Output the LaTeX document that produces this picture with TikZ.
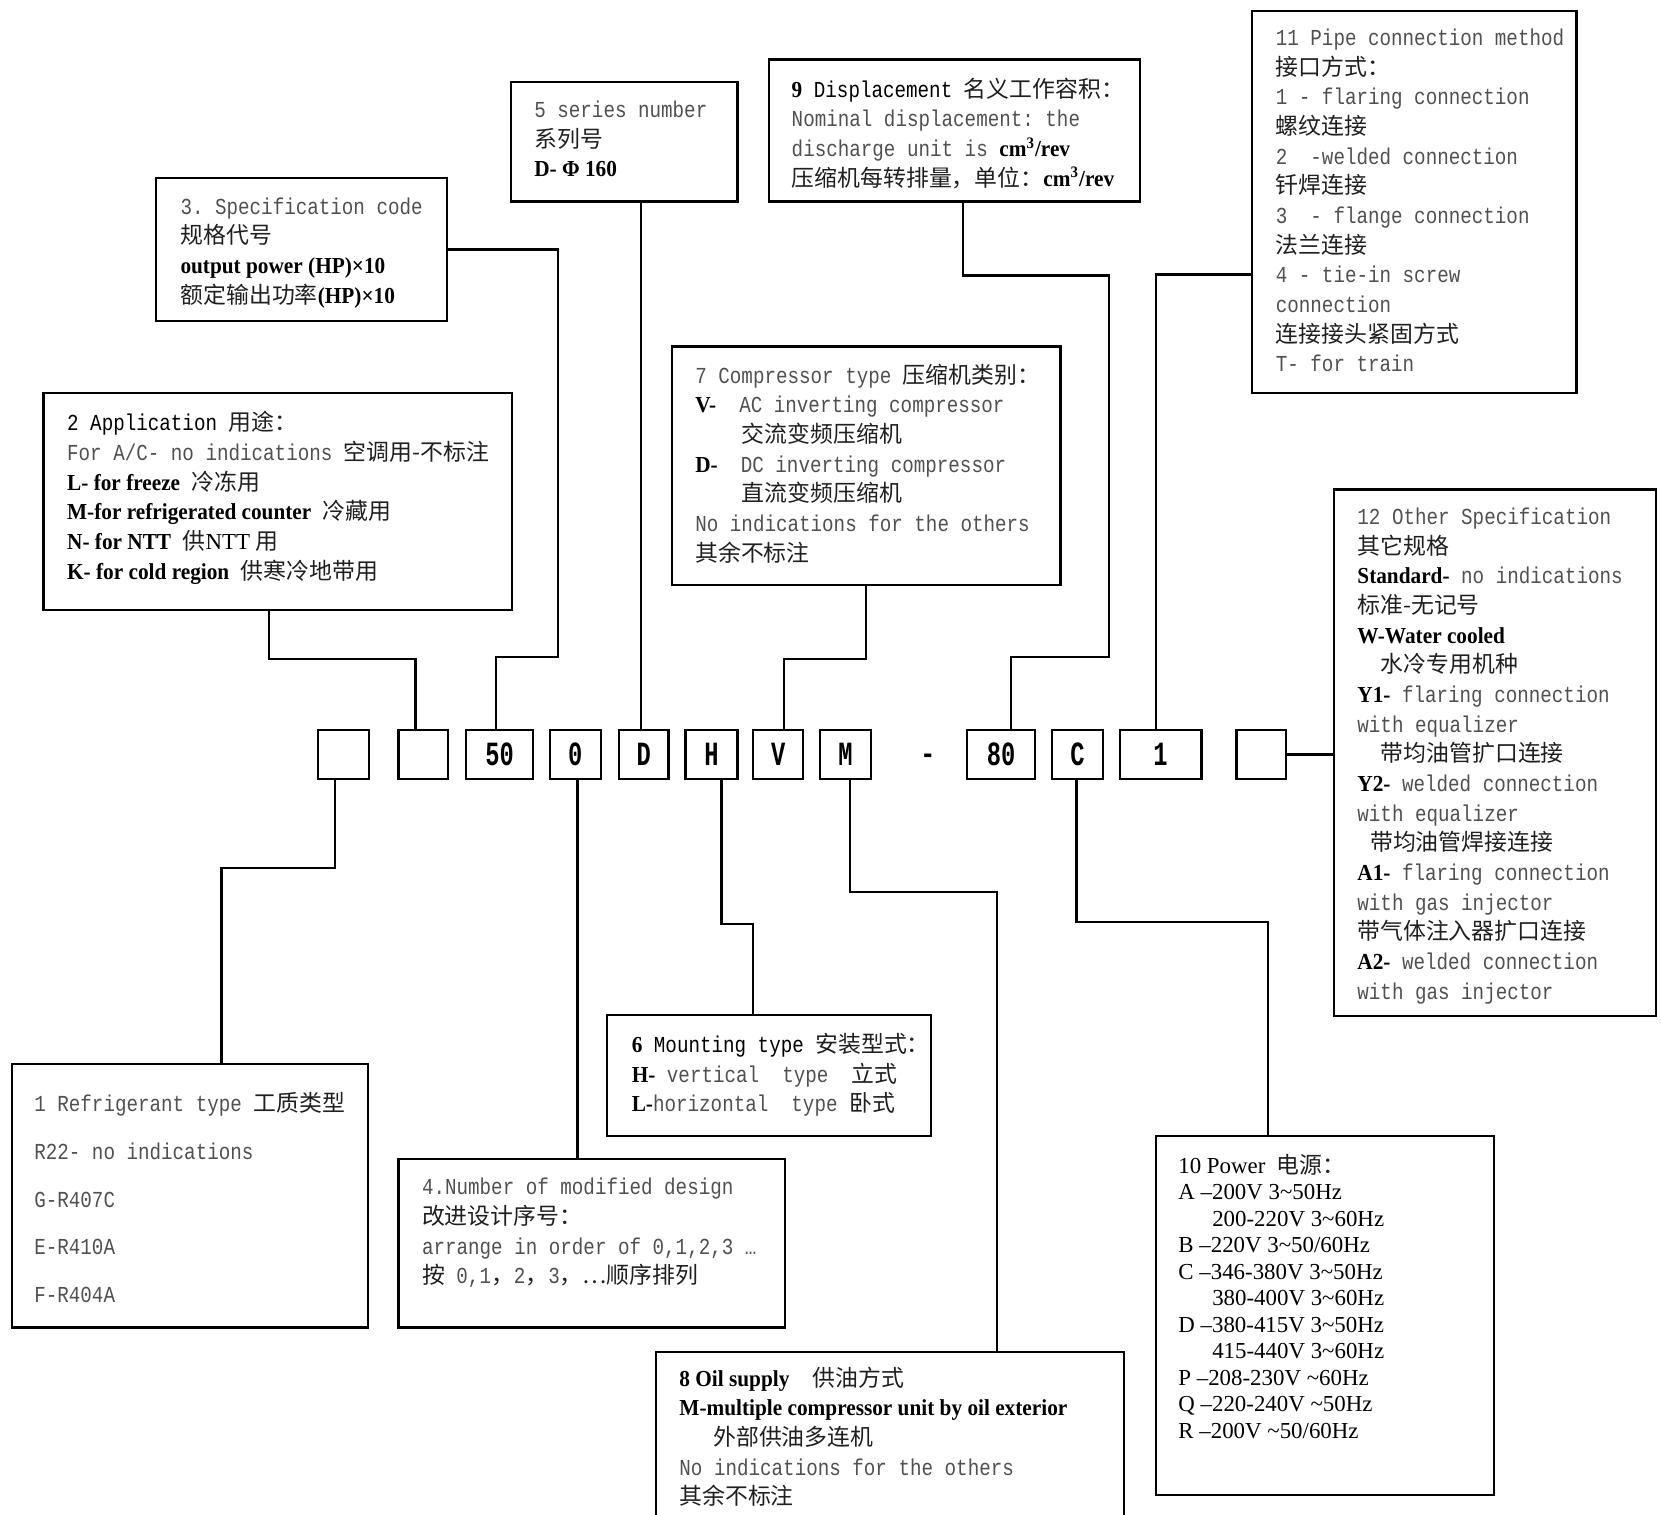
\documentclass[tikz,border=0pt]{standalone}
\usepackage{fontspec}
\setmainfont{Liberation Serif}
\setmonofont{Liberation Mono}[FakeStretch=0.84]
\newfontfamily\cjk{Noto Sans CJK SC}
\newfontfamily\codefont{Liberation Mono}[FakeStretch=0.7]
\newfontfamily\boldfont{Liberation Serif}[FakeStretch=0.93]
\usepackage{tikz}
\definecolor{CompGris}{HTML}{505050}
\colorlet{CompTinta}{black!88}
\newcommand\hz[1]{{\cjk\color{CompTinta}#1}}
\newcommand\tbf[1]{{\boldfont\bfseries\color{black}#1}}
\newcommand\tnr[1]{{\rmfamily\color{black}#1}}
\tikzset{
  spec/.style={draw,line width=1.1pt,anchor=north west,inner sep=0pt},
  spectxt/.style={anchor=north west,align=left,inner sep=0pt,text=CompGris,
    font=\ttfamily\fontsize{10.8}{14}\selectfont,
    execute at begin node=\rule{0pt}{11pt}},
  code/.style={draw,line width=1.1pt,anchor=north west,inner sep=0pt,minimum height=23pt,
    font=\codefont\bfseries\fontsize{16}{16}\selectfont},
  link/.style={line width=1.1pt}
}

\begin{document}
\begin{tikzpicture}[x=.5pt,y=-.5pt]
\path[use as bounding box,clip] (0,0) rectangle (1568,1430);
% code row
\node[code,minimum width=24pt]   (cR)  at (299,688) {};
\node[code,minimum width=23.5pt] (cA)  at (375,688) {};
\node[code,minimum width=31.5pt] (c50) at (439,688) {50};
\node[code,minimum width=24pt]   (c0)  at (518,688) {0};
\node[code,minimum width=23.5pt] (cD)  at (583,688) {D};
\node[code,minimum width=24.5pt] (cH)  at (646,688) {H};
\node[code,minimum width=23.5pt] (cV)  at (710,688) {V};
\node[code,minimum width=24pt]   (cM)  at (773,688) {M};
\node[font=\ttfamily\bfseries\fontsize{14}{14}\selectfont] (dash) at (876,716) {-};
\node[code,minimum width=32pt]   (c80) at (912,688) {80};
\node[code,minimum width=24pt]   (cC)  at (992,688) {C};
\node[code,minimum width=38.5pt] (c1)  at (1056,688) {1};
\node[code,minimum width=23.5pt] (cX)  at (1166,688) {};
% upper boxes
\node[spec,minimum width=137.5pt,minimum height=67.5pt] (spec3) at (146,167) {};
\node[spectxt] (spec3t) at (170,186) {3. Specification code\\
  \hz{规格代号}\\
  \tbf{output power (HP)×10}\\
  \hz{额定输出功率}\tbf{(HP)×10}};
\node[spec,minimum width=221pt,minimum height=102.5pt] (spec2) at (40,370) {};
\node[spectxt] (spec2t) at (63,388) {{\color{black}2 Application }\hz{用途：}\\
  For A/C- no indications \hz{空调用-不标注}\\
  \tbf{L- for freeze} \hz{冷冻用}\\
  \tbf{M-for refrigerated counter} \hz{冷藏用}\\
  \tbf{N- for NTT} \hz{供}\tnr{ NTT }\hz{用}\\
  \tbf{K- for cold region} \hz{供寒冷地带用}};
\node[spec,minimum width=107pt,minimum height=56.5pt] (spec5) at (481,76) {};
\node[spectxt] (spec5t) at (504,95) {5 series number\\
  \hz{系列号}\\
  \tbf{D- Φ 160}};
\node[spec,minimum width=175pt,minimum height=67pt] (spec9) at (725,55) {};
\node[spectxt] (spec9t) at (747,73) {\tbf{9} {\color{black}Displacement} \hz{名义工作容积：}\\
  Nominal displacement: the\\
  discharge unit is \tbf{cm\textsuperscript{3}/rev}\\
  \hz{压缩机每转排量，单位：}\tbf{cm\textsuperscript{3}/rev}};
\node[spec,minimum width=183.5pt,minimum height=112.5pt] (spec7) at (633,326) {};
\node[spectxt] (spec7t) at (656,343) {7 Compressor type \hz{压缩机类别：}\\
  \tbf{V-}\ \ AC inverting compressor\\
  \hspace*{22pt}\hz{交流变频压缩机}\\
  \tbf{D-}\ \ DC inverting compressor\\
  \hspace*{22pt}\hz{直流变频压缩机}\\
  No indications for the others\\
  \hz{其余不标注}};
\node[spec,minimum width=153pt,minimum height=180.5pt] (spec11) at (1181,9) {};
\node[spectxt] (spec11t) at (1204,27) {11 Pipe connection method\\
  \hz{接口方式：}\\
  1 - flaring connection\\
  \hz{螺纹连接}\\
  2\ \ -welded connection\\
  \hz{钎焊连接}\\
  3\ \ - flange connection\\
  \hz{法兰连接}\\
  4 - tie-in screw\\
  connection\\
  \hz{连接接头紧固方式}\\
  T- for train};
\node[spec,minimum width=152pt,minimum height=248.5pt] (spec12) at (1258,461) {};
\node[spectxt] (spec12t) at (1281,479) {12 Other Specification\\
  \hz{其它规格}\\
  \tbf{Standard-} no indications\\
  \hz{标准-无记号}\\
  \tbf{W-Water cooled}\\
  \hspace*{11pt}\hz{水冷专用机种}\\
  \tbf{Y1-} flaring connection\\
  with equalizer\\
  \hspace*{11pt}\hz{带均油管扩口连接}\\
  \tbf{Y2-} welded connection\\
  with equalizer\\
  \hspace*{6pt}\hz{带均油管焊接连接}\\
  \tbf{A1-} flaring connection\\
  with gas injector\\
  \hz{带气体注入器扩口连接}\\
  \tbf{A2-} welded connection\\
  with gas injector};
% lower boxes
\node[spec,minimum width=168pt,minimum height=124.5pt] (spec1) at (10,1003) {};
\node[spectxt,font=\ttfamily\fontsize{10.8}{22.5}\selectfont] (spec1t) at (32,1031) {1 Refrigerant type \hz{工质类型}\\
  R22- no indications\\
  G-R407C\\
  E-R410A\\
  F-R404A};
\node[spec,minimum width=182.5pt,minimum height=79.5pt] (spec4) at (375,1093) {};
\node[spectxt] (spec4t) at (398,1112) {4.Number of modified design\\
  \hz{改进设计序号：}\\
  arrange in order of 0,1,2,3 …\\
  \hz{按} 0,1\hz{，}2\hz{，}3\hz{，…顺序排列}};
\node[spec,minimum width=153pt,minimum height=57pt] (spec6) at (572,957) {};
\node[spectxt] (spec6t) at (596,975) {\tbf{6} {\color{black}Mounting type }\hz{安装型式：}\\
  \tbf{H-} vertical\ \ type\ \ \hz{立式}\\
  \tbf{L-}horizontal\ \ type \hz{卧式}};
\node[spec,minimum width=221pt,minimum height=90pt] (spec8) at (618,1275) {};
\node[spectxt] (spec8t) at (641,1290) {\tbf{8 Oil supply}\ \ \hz{供油方式}\\
  \tbf{M-multiple compressor unit by oil exterior}\\
  \hspace*{16pt}\hz{外部供油多连机}\\
  No indications for the others\\
  \hz{其余不标注}};
\node[spec,minimum width=159.5pt,minimum height=169.5pt] (spec10) at (1090,1071) {};
\node[spectxt,text=black,font=\rmfamily\fontsize{10.8}{12.5}\selectfont] (spec10t) at (1112,1089) {10 Power\ \ \hz{电源：}\\
  A –200V 3\textasciitilde50Hz\\
  \hspace*{16pt}200-220V 3\textasciitilde60Hz\\
  B –220V 3\textasciitilde50/60Hz\\
  C –346-380V 3\textasciitilde50Hz\\
  \hspace*{16pt}380-400V 3\textasciitilde60Hz\\
  D –380-415V 3\textasciitilde50Hz\\
  \hspace*{16pt}415-440V 3\textasciitilde60Hz\\
  P –208-230V \textasciitilde60Hz\\
  Q –220-240V \textasciitilde50Hz\\
  R –200V \textasciitilde50/60Hz};
% connectors
\coordinate (dD) at ([xshift=-1.25pt]cD.north);
\coordinate (d0) at ([xshift=1pt]c0.south);
\draw[link] (spec3.east) -| (527,620) -| ([xshift=-1.75pt]c50.north);
\draw[link] ([xshift=-4pt]spec2.south) -- ++(0,45) -| ([xshift=-3.75pt]cA.north);
\draw[link] (dD) -- (dD |- spec5.south);
\draw[link] (spec7.south) -- ++(0,69) -| ([xshift=2.75pt]cV.north);
\draw[link] ([xshift=4pt]spec9.south) -- ++(0,69) -| (1047,620) -| ([xshift=4.5pt]c80.north);
\draw[link] ([yshift=-34.25pt]spec11.west) -| ([xshift=-2.25pt]c1.north);
\draw[link] (cX.east) -- (cX.east -| spec12.west);
\draw[link] ([xshift=-4pt]cR.south) -- ++(0,83) -| ([xshift=15pt]spec1.north);
\draw[link] (d0) -- (d0 |- spec4.north);
\draw[link] ([xshift=4.75pt]cH.south) -- ++(0,136) -| ([xshift=-7.5pt]spec6.north);
\draw[link] ([xshift=2pt]cM.south) -- ++(0,106) -| ([xshift=50.5pt]spec8.north);
\draw[link] ([xshift=-.5pt]cC.south) -- ++(0,134) -| ([xshift=-26.75pt]spec10.north);
\end{tikzpicture}
\end{document}
